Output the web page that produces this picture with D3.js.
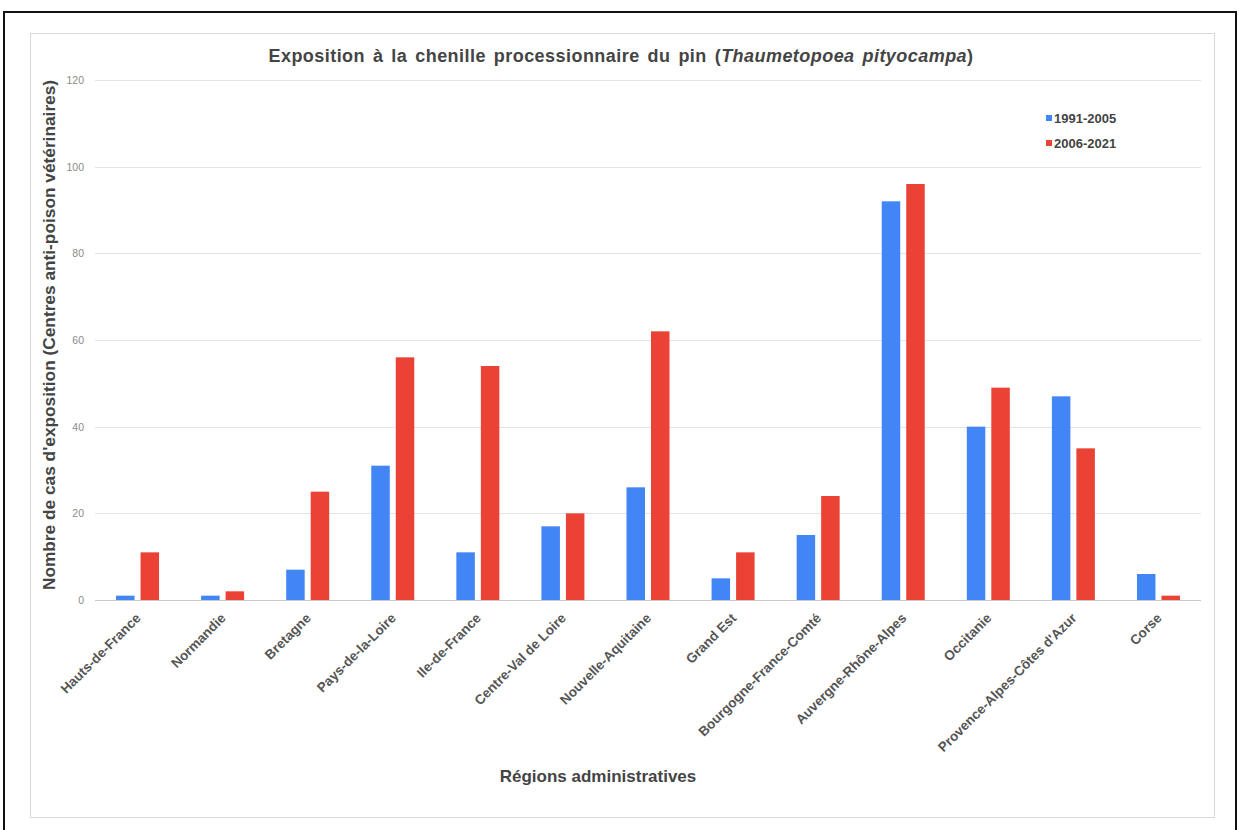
<!DOCTYPE html>
<html>
<head>
<meta charset="utf-8">
<script src="https://cdn.jsdelivr.net/npm/d3@7/dist/d3.min.js"></script>
<style>
  html, body { margin: 0; padding: 0; background: #fff; }
  svg { display: block; }
  text { font-family: "Liberation Sans", Arial, sans-serif; }
</style>
</head>
<body>
<svg id="chart" width="1239" height="830"></svg>
<script>
const categories = ["Hauts-de-France", "Normandie", "Bretagne", "Pays-de-la-Loire", "Ile-de-France",
  "Centre-Val de Loire", "Nouvelle-Aquitaine", "Grand Est", "Bourgogne-France-Comté",
  "Auvergne-Rhône-Alpes", "Occitanie", "Provence-Alpes-Côtes d'Azur", "Corse"];
const seriesNames = ["1991-2005", "2006-2021"];
const values1991 = [1, 1, 7, 31, 11, 17, 26, 5, 15, 92, 40, 47, 6];
const values2006 = [11, 2, 25, 56, 54, 20, 62, 11, 24, 96, 49, 35, 1];
const yTicks = [0, 20, 40, 60, 80, 100, 120];
const colors = ["#4285F4", "#EA4335"];

const svg = d3.select("#chart");

// outer black frame
svg.append("rect").attr("x", 4).attr("y", 12).attr("width", 1232).attr("height", 830)
  .attr("fill", "none").attr("stroke", "#111").attr("stroke-width", 2);
// inner light frame
svg.append("rect").attr("x", 30.5).attr("y", 33.5).attr("width", 1184).attr("height", 784)
  .attr("fill", "#fff").attr("stroke", "#d9d9d9").attr("stroke-width", 1);

const x0 = d3.scaleBand().domain(categories).range([95, 1201]).paddingInner(0).paddingOuter(0);
const y = d3.scaleLinear().domain([0, 120]).range([600, 80]);

// gridlines
const grid = svg.append("g");
grid.selectAll("line").data(yTicks).join("line")
  .attr("x1", 95).attr("x2", 1201)
  .attr("y1", d => Math.round(y(d)) + 0.5).attr("y2", d => Math.round(y(d)) + 0.5)
  .attr("stroke", d => d === 0 ? "#c8c8c8" : "#e3e3e3").attr("stroke-width", 1);

// y axis labels
const yAxis = d3.axisLeft(y).tickValues(yTicks).tickSize(0).tickPadding(0);
const yG = svg.append("g").attr("transform", "translate(84,0)").call(yAxis);
yG.select(".domain").remove();
yG.selectAll("text").attr("fill", "#8a8a8a").attr("font-size", 10.5);

// bars
const barW = 18.5, gap = 6;
const data = categories.map((c, i) => ({ c, vals: [values1991[i], values2006[i]] }));
const groups = svg.append("g").selectAll("g").data(data).join("g")
  .attr("transform", d => `translate(${x0(d.c) + x0.bandwidth() / 2},0)`);
groups.selectAll("rect").data(d => d.vals.map((v, k) => ({ v, k }))).join("rect")
  .attr("x", d => d.k === 0 ? -(barW + gap / 2) : gap / 2)
  .attr("width", barW)
  .attr("y", d => y(d.v))
  .attr("height", d => y(0) - y(d.v))
  .attr("fill", d => colors[d.k]);

// x labels
const xl = svg.append("g");
xl.selectAll("text").data(categories).join("text")
  .attr("transform", d => `translate(${x0(d) + x0.bandwidth() / 2 + 4},619) rotate(-45)`)
  .attr("text-anchor", "end")
  .attr("font-size", 13.5).attr("font-weight", "bold").attr("fill", "#555")
  .text(d => d);

// title
const title = svg.append("text").attr("x", 621).attr("y", 62).attr("text-anchor", "middle")
  .attr("font-size", 18).attr("font-weight", "bold").attr("fill", "#444")
  .attr("letter-spacing", 0.45).attr("word-spacing", 2.5);
title.append("tspan").text("Exposition à la chenille processionnaire du pin (");
title.append("tspan").attr("font-style", "italic").text("Thaumetopoea pityocampa");
title.append("tspan").text(")");

// y axis title
svg.append("text").attr("transform", "translate(54.5,335) rotate(-90)").attr("text-anchor", "middle")
  .attr("font-size", 17.3).attr("font-weight", "bold").attr("fill", "#444")
  .text("Nombre de cas d'exposition (Centres anti-poison vétérinaires)");

// x axis title
svg.append("text").attr("x", 598).attr("y", 782).attr("text-anchor", "middle")
  .attr("font-size", 17).attr("font-weight", "bold").attr("fill", "#444")
  .text("Régions administratives");

// legend
const leg = svg.append("g").selectAll("g").data(seriesNames).join("g")
  .attr("transform", (d, i) => `translate(1046,${118 + i * 25})`);
leg.append("rect").attr("x", 0).attr("y", -3).attr("width", 6).attr("height", 6)
  .attr("fill", (d, i) => colors[i]);
leg.append("text").attr("x", 8).attr("y", 4.5).attr("font-size", 13).attr("font-weight", "bold")
  .attr("fill", "#444").text(d => d);
</script>
</body>
</html>
